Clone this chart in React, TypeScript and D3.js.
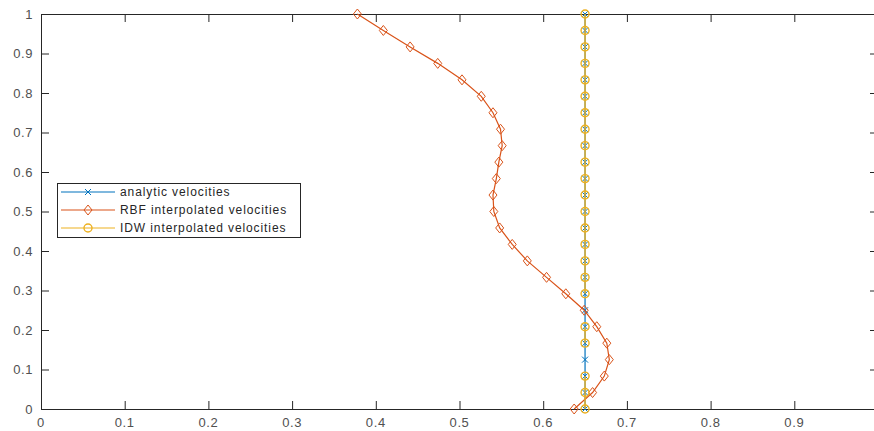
import * as d3 from "d3";
import React from "react";

const width = 874;
const height = 431;
const margin = { left: 41, top: 14, right: -4, bottom: 22 };

// heights sampled at 25 even steps from 0 to 1
const heights = d3.range(25).map((i) => i / 24);
const analytic = [
  0.65, 0.65, 0.65, 0.65, 0.65, 0.65, 0.65, 0.65, 0.65, 0.65, 0.65, 0.65, 0.65,
  0.65, 0.65, 0.65, 0.65, 0.65, 0.65, 0.65, 0.65, 0.65, 0.65, 0.65, 0.65,
];
const rbf = [
  0.637, 0.659, 0.673, 0.679, 0.676, 0.664, 0.649, 0.627, 0.604, 0.581, 0.563,
  0.548, 0.541, 0.54, 0.544, 0.547, 0.551, 0.549, 0.54, 0.526, 0.503, 0.474,
  0.441, 0.409, 0.378,
];
const idw = [
  0.65, 0.65, 0.65, NaN, 0.65, 0.65, NaN, 0.65, 0.65, 0.65, 0.65, 0.65, 0.65,
  0.65, 0.65, 0.65, 0.65, 0.65, 0.65, 0.65, 0.65, 0.65, 0.65, 0.65, 0.65,
];
const xTicks = [0, 0.1, 0.2, 0.3, 0.4, 0.5, 0.6, 0.7, 0.8, 0.9, 1];
const xLabels = [0, 0.1, 0.2, 0.3, 0.4, 0.5, 0.6, 0.7, 0.8, 0.9];
const yTicks = [0, 0.1, 0.2, 0.3, 0.4, 0.5, 0.6, 0.7, 0.8, 0.9, 1];
const seriesNames = [
  "analytic velocities",
  "RBF interpolated velocities",
  "IDW interpolated velocities",
];

const blue = "#0072BD";
const orange = "#D95319";
const yellow = "#EDB120";
const axisColor = "#262626";
const font = "'Liberation Sans', Arial, Helvetica, sans-serif";

const x = d3.scaleLinear().domain([0, 1]).range([margin.left, width - margin.right]);
const y = d3.scaleLinear().domain([0, 1]).range([height - margin.bottom, margin.top]);

const fmt = (v: number) => (v === 0 ? "0" : v === 1 ? "1" : d3.format(".1f")(v));

type Pt = { v: number; h: number };
const toPts = (vals: number[]): Pt[] => vals.map((v, i) => ({ v, h: heights[i] }));

const lineGen = d3
  .line<Pt>()
  .defined((d) => !isNaN(d.v))
  .x((d) => x(d.v))
  .y((d) => y(d.h));

const Cross = ({ cx, cy }: { cx: number; cy: number }) => (
  <path
    d={`M${cx - 3},${cy - 3}L${cx + 3},${cy + 3}M${cx - 3},${cy + 3}L${cx + 3},${cy - 3}`}
    stroke={blue}
    strokeWidth={1}
    fill="none"
  />
);
const Diamond = ({ cx, cy }: { cx: number; cy: number }) => (
  <path
    d={`M${cx},${cy - 5}L${cx + 4},${cy}L${cx},${cy + 5}L${cx - 4},${cy}Z`}
    stroke={orange}
    strokeWidth={1}
    fill="none"
  />
);
const Ring = ({ cx, cy }: { cx: number; cy: number }) => (
  <circle cx={cx} cy={cy} r={4} stroke={yellow} strokeWidth={1.4} fill="none" />
);

const App = () => {
  const [x0, x1] = x.range();
  const [y0, y1] = y.range();
  const legendX = 57;
  const legendY = 183;
  const rowH = 18;
  const markers = [Cross, Diamond, Ring];
  const colors = [blue, orange, yellow];
  return (
    <svg
      width={width}
      height={height}
      style={{ position: "absolute", left: 0, top: 0, background: "#fff" }}
    >
      <rect width={width} height={height} fill="#fff" />
      <defs>
        <clipPath id="plot">
          <rect x={x0} y={y1 - 6} width={x1 - x0 + 6} height={y0 - y1 + 12} />
        </clipPath>
      </defs>

      {/* axes box + ticks */}
      <g stroke={axisColor} strokeWidth={1} fill="none">
        <line x1={x0} x2={x1} y1={y0 + 0.5} y2={y0 + 0.5} />
        <line x1={x0} x2={x1} y1={y1 + 0.5} y2={y1 + 0.5} />
        <line x1={x0 + 0.5} x2={x0 + 0.5} y1={y1} y2={y0} />
        <line x1={x1 - 0.5} x2={x1 - 0.5} y1={y1} y2={y0} />
        {xTicks.map((t) => (
          <g key={"xt" + t}>
            <line x1={x(t) + 0.5} x2={x(t) + 0.5} y1={y0} y2={y0 - 8} />
            <line x1={x(t) + 0.5} x2={x(t) + 0.5} y1={y1} y2={y1 + 8} />
          </g>
        ))}
        {yTicks.map((t) => (
          <g key={"yt" + t}>
            <line x1={x0} x2={x0 + 8} y1={y(t) + 0.5} y2={y(t) + 0.5} />
            <line x1={x1} x2={x1 - 8} y1={y(t) + 0.5} y2={y(t) + 0.5} />
          </g>
        ))}
      </g>
      <g fill="#505050" fontFamily={font} fontSize={13} letterSpacing={0.6}>
        {xLabels.map((t) => (
          <text key={"xl" + t} x={x(t)} y={y0 + 18} textAnchor="middle">
            {fmt(t)}
          </text>
        ))}
        {yTicks.map((t) => (
          <text key={"yl" + t} x={x0 - 8} y={y(t) + 4.5} textAnchor="end">
            {fmt(t)}
          </text>
        ))}
      </g>

      <g clipPath="url(#plot)">
        <path d={lineGen(toPts(analytic)) || ""} stroke={blue} strokeWidth={1.2} fill="none" />
        {toPts(analytic).map((d, i) => (
          <Cross key={"a" + i} cx={x(d.v)} cy={y(d.h)} />
        ))}
        <path d={lineGen(toPts(rbf)) || ""} stroke={orange} strokeWidth={1.2} fill="none" />
        {toPts(rbf).map((d, i) => (
          <Diamond key={"r" + i} cx={x(d.v)} cy={y(d.h)} />
        ))}
        <path d={lineGen(toPts(idw)) || ""} stroke={yellow} strokeWidth={1.4} fill="none" />
        {toPts(idw)
          .filter((d) => !isNaN(d.v))
          .map((d, i) => (
            <Ring key={"i" + i} cx={x(d.v)} cy={y(d.h)} />
          ))}
      </g>

      {/* legend */}
      <g>
        <rect
          x={legendX + 0.5}
          y={legendY + 0.5}
          width={243}
          height={54}
          fill="#fff"
          stroke={axisColor}
          strokeWidth={1}
        />
        {seriesNames.map((name, i) => {
          const cy = legendY + 9 + i * rowH;
          const M = markers[i];
          return (
            <g key={name}>
              <line x1={legendX + 4} x2={legendX + 58} y1={cy} y2={cy} stroke={colors[i]} strokeWidth={1.2} />
              <M cx={legendX + 31} cy={cy} />
              <text
                x={legendX + 63}
                y={cy + 4}
                fontFamily={font}
                fontSize={12}
                letterSpacing={0.9}
                fill="#262626"
              >
                {name}
              </text>
            </g>
          );
        })}
      </g>
    </svg>
  );
};

export default App;
